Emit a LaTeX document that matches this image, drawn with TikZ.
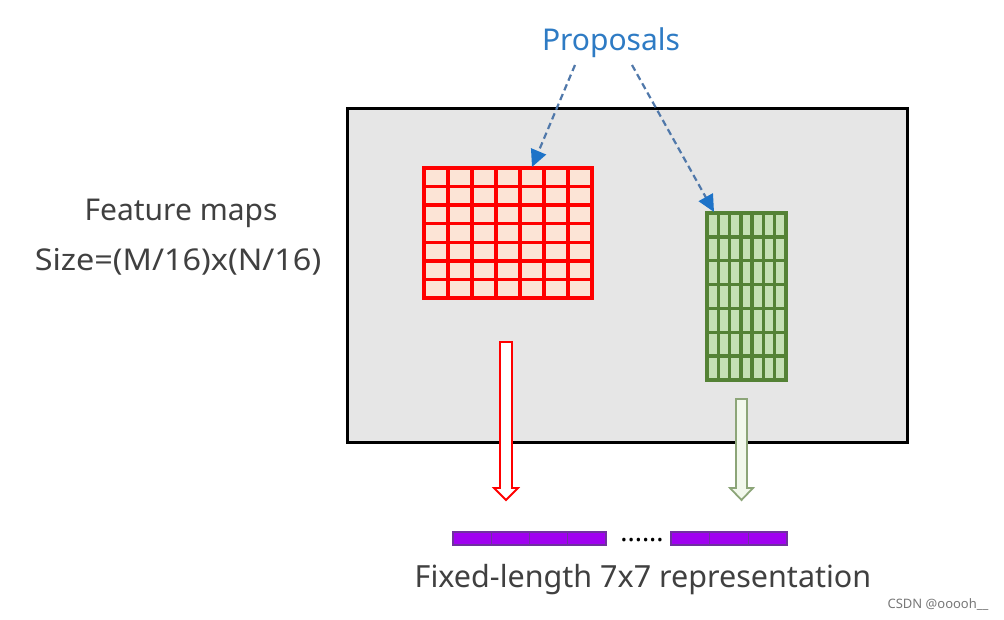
\documentclass[tikz,border=0pt]{standalone}
\usepackage{fontspec}
\setmainfont{Noto Sans}
\usetikzlibrary{arrows.meta,calc}
\definecolor{boxgray}{RGB}{230,230,230}
\definecolor{gridred}{RGB}{255,0,0}
\definecolor{cellpeach}{RGB}{252,228,214}
\definecolor{griddkgreen}{RGB}{84,130,53}
\definecolor{cellgreen}{RGB}{197,224,180}
\definecolor{arrowgreen}{RGB}{140,165,120}
\definecolor{arrowgreenfill}{RGB}{242,248,236}
\definecolor{barpurple}{RGB}{160,0,240}
\definecolor{barborder}{RGB}{112,48,160}
\definecolor{propblue}{RGB}{46,123,196}
\definecolor{dashblue}{RGB}{80,120,170}
\definecolor{tipblue}{RGB}{30,115,200}
\definecolor{textgray}{RGB}{64,64,64}
\tikzset{
  maintext/.style={text=textgray, font=\fontsize{30}{36}\selectfont, inner sep=0pt},
  redgrid/.style={draw=gridred, fill=cellpeach, line width=3.4pt, inner sep=0pt, outer sep=0pt, anchor=north west},
  redline/.style={draw=gridred, line width=3.4pt},
  greengrid/.style={draw=griddkgreen, fill=cellgreen, line width=3.4pt, inner sep=0pt, outer sep=0pt, anchor=north west},
  greenline/.style={draw=griddkgreen, line width=3.4pt},
  proparrow/.style={draw=dashblue, line width=2.2pt, dash pattern=on 6.5pt off 4pt,
    -{Triangle[length=17pt,width=16pt,color=tipblue,fill=tipblue]}},
  hollowred/.style={draw=gridred, fill=white, line width=1.8pt, line join=miter},
  hollowgreen/.style={draw=arrowgreen, fill=arrowgreenfill, line width=1.8pt, line join=miter},
  barseg/.style={draw=barborder, fill=barpurple, line width=1.4pt, inner sep=0pt, outer sep=0pt, anchor=north west, minimum height=13pt}
}
\begin{document}
\begin{tikzpicture}[x=1pt,y=-1pt]
\useasboundingbox[fill=white] (0,0) rectangle (1004,620);
% feature map box
\node[draw=black, fill=boxgray, line width=3pt, inner sep=0pt, outer sep=0pt, anchor=north west,
      minimum width=560pt, minimum height=333pt] (fmap) at (347,109) {};
% left labels
\node[maintext] (featlbl) at (181,213) {Feature maps};
\node[maintext] (sizelbl) at (178,262) {\scalebox{1.08}[1]{Size=(M/16)x(N/16)}};
% red grid
\node[redgrid, minimum width=168pt, minimum height=130pt] (red) at (424,168) {};
\foreach \i in {1,...,6} {
  \draw[redline] ($(red.north west)!\i/7!(red.north east)$) -- ($(red.south west)!\i/7!(red.south east)$);
  \draw[redline] ($(red.north west)!\i/7!(red.south west)$) -- ($(red.north east)!\i/7!(red.south east)$);
}
\node[draw=gridred, line width=3.4pt, inner sep=0pt, outer sep=0pt, anchor=north west, minimum width=168pt, minimum height=130pt] at (424,168) {};
% green grid
\node[greengrid, minimum width=79pt, minimum height=167pt] (green) at (707,213) {};
\foreach \i in {1,...,6} {
  \draw[greenline] ($(green.north west)!\i/7!(green.north east)$) -- ($(green.south west)!\i/7!(green.south east)$);
  \draw[greenline] ($(green.north west)!\i/7!(green.south west)$) -- ($(green.north east)!\i/7!(green.south east)$);
}
\node[draw=griddkgreen, line width=3.4pt, inner sep=0pt, outer sep=0pt, anchor=north west, minimum width=79pt, minimum height=167pt] at (707,213) {};
% proposals
\node[text=propblue, font=\fontsize{30}{36}\selectfont, inner sep=0pt] (prop) at (611,43) {Proposals};
\coordinate (pstartL) at (575,65);
\coordinate (pstartR) at (632,65);
\coordinate (redtop) at (532,167);
\coordinate (greentop) at (714,212);
\draw[proparrow] (pstartL) -- (redtop);
\draw[proparrow] (pstartR) -- (greentop);
% hollow arrows
\draw[hollowred] (500,342) -- (512,342) -- (512,488) -- (518,488) -- (506,500) -- (494,488) -- (500,488) -- cycle;
\draw[hollowgreen] (736,399) -- (747,399) -- (747,488) -- (753,488) -- (741.5,500) -- (730,488) -- (736,488) -- cycle;
% purple bars
\foreach \x [count=\k] in {453,491.25,529.5,567.75} {
  \node[barseg, minimum width=38.25pt] (lb\k) at (\x,532) {};
}
\foreach \x [count=\k] in {671,709.67,748.33} {
  \node[barseg, minimum width=38.67pt] (rb\k) at (\x,532) {};
}
\node[inner sep=0pt, anchor=base, font=\fontsize{27}{30}\selectfont] (dots) at (642,541) {......};
% bottom label
\node[maintext, font=\fontsize{30.5}{36}\selectfont] (fixlbl) at (643,580) {Fixed-length 7x7 representation};
% watermark
\node[inner sep=0pt, text={rgb,255:red,120;green,120;blue,120}, font=\fontsize{13}{15}\selectfont] (wm) at (938,605) {CSDN @ooooh\_\_};
\end{tikzpicture}
\end{document}
